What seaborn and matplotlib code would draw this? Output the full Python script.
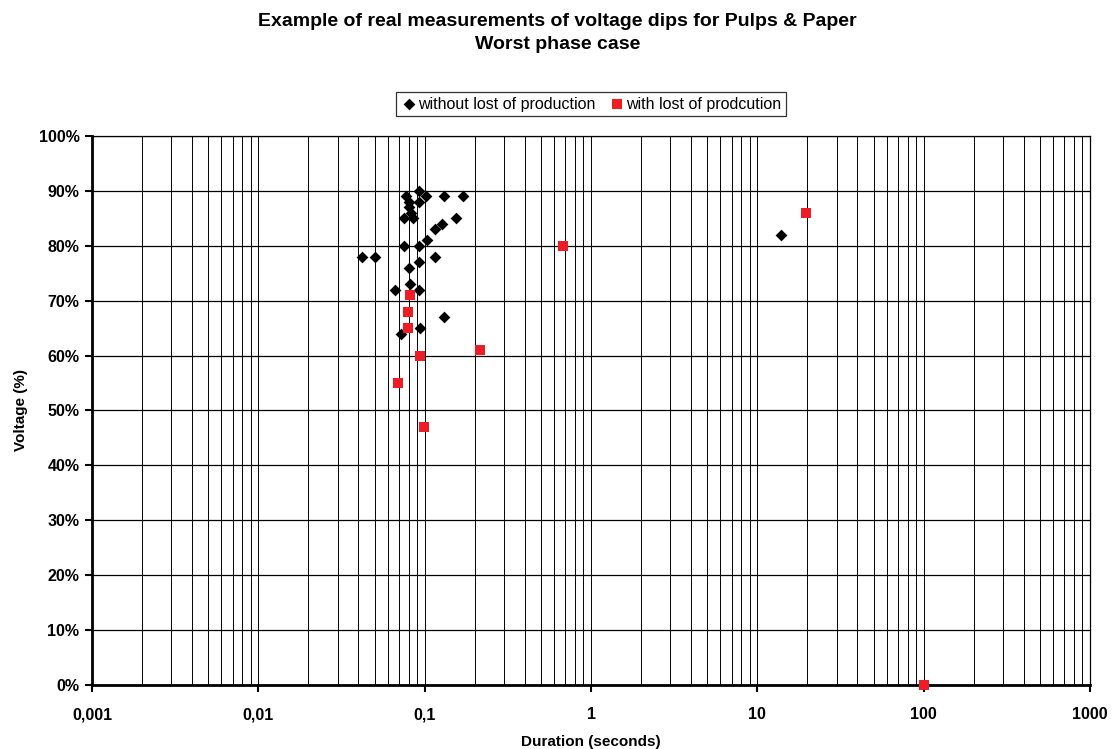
import matplotlib
matplotlib.use("Agg")
import matplotlib.pyplot as plt
import seaborn as sns
import pandas as pd
import numpy as np
from matplotlib.ticker import FixedLocator, LogLocator, NullFormatter

# ---- data ----
dur_without = [0.0925, 0.0768, 0.1014, 0.13, 0.17, 0.093, 0.080, 0.081, 0.083, 0.075,
               0.085, 0.155, 0.128, 0.116, 0.104, 0.075, 0.0925, 0.0418, 0.050, 0.116,
               0.0925, 0.080, 0.082, 0.066, 0.093, 0.13, 0.094, 0.0724, 13.9]
volt_without = [90, 89, 89, 89, 89, 88, 88, 87, 86, 85,
                85, 85, 84, 83, 81, 80, 80, 78, 78, 78,
                77, 76, 73, 72, 72, 67, 65, 64, 82]
dur_with = [0.082, 0.079, 0.079, 0.0937, 0.214, 0.069, 0.099, 0.676, 19.7, 100]
volt_with = [71, 68, 65, 60, 61, 55, 47, 80, 86, 0]

x_ticks = [0.001, 0.01, 0.1, 1, 10, 100, 1000]
x_tick_labels = ["0,001", "0,01", "0,1", "1", "10", "100", "1000"]
y_ticks = list(range(0, 101, 10))
y_tick_labels = [f"{v}%" for v in y_ticks]

series_names = ["without lost of production", "with lost of prodcution"]
title = "Example of real measurements of voltage dips for Pulps & Paper\nWorst phase case"

df_without = pd.DataFrame({"Duration": dur_without, "Voltage": volt_without})
df_with = pd.DataFrame({"Duration": dur_with, "Voltage": volt_with})

sns.set_theme(style="white")
plt.rcParams['font.family'] = ['Liberation Sans', 'DejaVu Sans']
plt.rcParams['text.color'] = 'black'
plt.rcParams['axes.labelcolor'] = 'black'
plt.rcParams['xtick.color'] = 'black'
plt.rcParams['ytick.color'] = 'black'

fig = plt.figure(figsize=(11.15, 7.49), dpi=100)
ax = fig.add_axes([0.0825, 0.0855, 0.8951, 0.7329])

ax.set_xscale("log")
ax.set_xlim(0.001, 1000)
ax.set_ylim(0, 100)

# grid
ax.xaxis.set_minor_locator(LogLocator(base=10, subs=np.arange(2, 10)))
ax.xaxis.set_minor_formatter(NullFormatter())
ax.grid(True, which="both", axis="x", color="black", linewidth=0.7)
ax.grid(True, which="major", axis="y", color="black", linewidth=0.9)
ax.set_axisbelow(True)

sns.scatterplot(data=df_without, x="Duration", y="Voltage", ax=ax, marker="D",
                color="black", s=36, linewidth=0, label=series_names[0],
                clip_on=False, zorder=3)
sns.scatterplot(data=df_with, x="Duration", y="Voltage", ax=ax, marker="s",
                color="#EE1C25", s=46, linewidth=0, label=series_names[1],
                clip_on=False, zorder=4)

ax.xaxis.set_major_locator(FixedLocator(x_ticks))
ax.set_xticklabels(x_tick_labels)
ax.set_yticks(y_ticks)
ax.set_yticklabels(y_tick_labels)

for lab in ax.get_xticklabels() + ax.get_yticklabels():
    lab.set_fontweight("bold")
    lab.set_fontsize(11.5)
    lab.set_color("black")

ax.tick_params(axis="both", which="major", direction="out", length=5, width=1.5,
               color="black", bottom=True, left=True, pad=4)
ax.tick_params(axis="x", which="major", pad=11)
ax.tick_params(axis="x", which="minor", length=0)

for side in ["left", "bottom"]:
    ax.spines[side].set_color("black")
    ax.spines[side].set_linewidth(2)
for side in ["top", "right"]:
    ax.spines[side].set_color("black")
    ax.spines[side].set_linewidth(0.9)

ax.set_xlabel("Duration (seconds)", fontsize=11, fontweight="bold", labelpad=9, color="black")
ax.set_ylabel("Voltage (%)", fontsize=11, fontweight="bold", labelpad=8, color="black")

fig.suptitle(title, fontsize=14, fontweight="bold", y=0.982, linespacing=1.45, color="black")

leg = ax.legend(loc="center", bbox_to_anchor=(0.5, 1.058), ncol=2, frameon=True,
                fontsize=11.5, handletextpad=0.1, columnspacing=0.8,
                borderpad=0.3, handlelength=1.0, fancybox=False, edgecolor="black",
                labelcolor="black")
leg.get_frame().set_linewidth(0.9)

fig.savefig("out.png", dpi=100)
